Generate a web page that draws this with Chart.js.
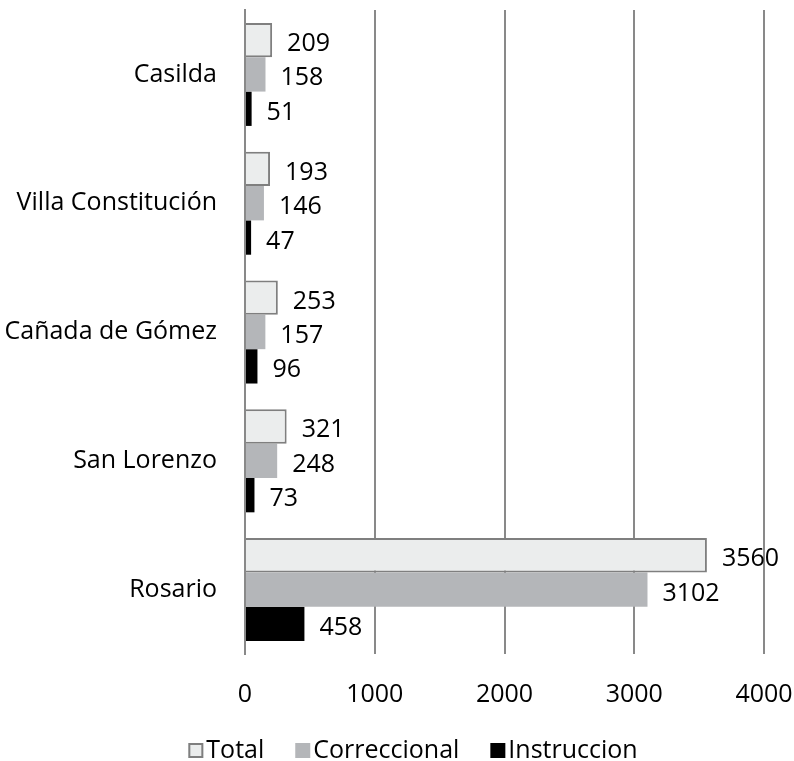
<!DOCTYPE html>
<html lang="es">
<head>
    <meta charset="UTF-8">
    <title>Causas por circunscripción</title>
    <script src="https://cdn.jsdelivr.net/npm/chart.js"></script>
    <style>
        body {
            margin: 0;
            background: #fff;
        }
        #wrap {
            width: 794px;
            height: 761px;
        }
    </style>
</head>
<body>

    <div id="wrap">
        <canvas id="barChart" width="794" height="761"></canvas>
    </div>

    <script>
        // Data
        const cities = ['Casilda', 'Villa Constitución', 'Cañada de Gómez', 'San Lorenzo', 'Rosario'];
        const total = [209, 193, 253, 321, 3560];
        const correccional = [158, 146, 157, 248, 3102];
        const instruccion = [51, 47, 96, 73, 458];
        const xTicks = [0, 1000, 2000, 3000, 4000];

        const FONT = '"Open Sans", "DejaVu Sans", sans-serif';
        const SIZE = 25;

        // draw the value next to every bar
        const valueLabels = {
            id: 'valueLabels',
            afterDatasetsDraw(chart) {
                const ctx = chart.ctx;
                ctx.save();
                ctx.font = SIZE + 'px ' + FONT;
                ctx.fillStyle = '#000';
                ctx.textAlign = 'left';
                ctx.textBaseline = 'alphabetic';
                chart.data.datasets.forEach((ds, i) => {
                    chart.getDatasetMeta(i).data.forEach((bar, j) => {
                        ctx.fillText(String(ds.data[j]), bar.x + 15, bar.y + 11);
                    });
                });
                ctx.restore();
            }
        };

        // legend drawn by hand so the box/text spacing matches the original
        const bottomLegend = {
            id: 'bottomLegend',
            afterDraw(chart) {
                const ctx = chart.ctx;
                ctx.save();
                ctx.font = SIZE + 'px ' + FONT;
                const items = chart.data.datasets.map(ds => ({
                    text: ds.label,
                    fill: ds.backgroundColor,
                    stroke: ds.borderWidth ? ds.borderColor : null,
                    w: ctx.measureText(ds.label).width
                }));
                const box = 15, gapText = 3, gapItem = 31;
                const full = items.reduce((s, it) => s + box + gapText + it.w, 0) + gapItem * (items.length - 1);
                let x = 413 - full / 2;
                const base = 758;
                items.forEach(it => {
                    ctx.fillStyle = it.fill;
                    ctx.fillRect(x, base - 15, box, box);
                    if (it.stroke) {
                        ctx.strokeStyle = it.stroke;
                        ctx.lineWidth = 2;
                        ctx.strokeRect(x + 1, base - 14, box - 2, box - 2);
                    }
                    x += box + gapText;
                    ctx.fillStyle = '#000';
                    ctx.fillText(it.text, x, base);
                    x += it.w + gapItem;
                });
                ctx.restore();
            }
        };

        const ctx = document.getElementById('barChart').getContext('2d');
        const chart = new Chart(ctx, {
            type: 'bar',
            data: {
                labels: cities,
                datasets: [
                    {
                        label: 'Total',
                        data: total,
                        backgroundColor: '#ebeded',
                        borderColor: '#7f7f7f',
                        borderWidth: 2,
                        borderSkipped: 'start'
                    },
                    {
                        label: 'Correccional',
                        data: correccional,
                        backgroundColor: '#b4b6b9',
                        borderWidth: 0
                    },
                    {
                        label: 'Instruccion',
                        data: instruccion,
                        backgroundColor: '#000000',
                        borderWidth: 0
                    }
                ]
            },
            options: {
                indexAxis: 'y',
                responsive: false,
                animation: false,
                layout: {
                    padding: { top: 10, right: 30, bottom: 54, left: 0 }
                },
                datasets: {
                    bar: {
                        categoryPercentage: 0.8,
                        barPercentage: 1.0
                    }
                },
                scales: {
                    x: {
                        min: 0,
                        max: 4000,
                        afterBuildTicks: axis => {
                            axis.ticks = xTicks.map(v => ({ value: v }));
                        },
                        afterFit: axis => {
                            axis.height = 53;
                            axis.paddingLeft = 0;
                            axis.paddingRight = 0;
                        },
                        grid: {
                            color: '#898989',
                            lineWidth: 2,
                            drawTicks: false
                        },
                        border: { display: false },
                        ticks: {
                            color: '#000',
                            padding: 26,
                            callback: v => String(v),
                            font: { family: FONT, size: SIZE }
                        }
                    },
                    y: {
                        afterFit: axis => {
                            axis.width = 245;
                            axis.paddingTop = 0;
                            axis.paddingBottom = 0;
                        },
                        grid: { display: false, drawTicks: false },
                        border: { color: '#898989', width: 2 },
                        ticks: {
                            color: '#000',
                            padding: 28,
                            font: { family: FONT, size: SIZE }
                        }
                    }
                },
                plugins: {
                    legend: { display: false },
                    tooltip: { enabled: false }
                }
            },
            plugins: [valueLabels, bottomLegend]
        });
    </script>

</body>
</html>
